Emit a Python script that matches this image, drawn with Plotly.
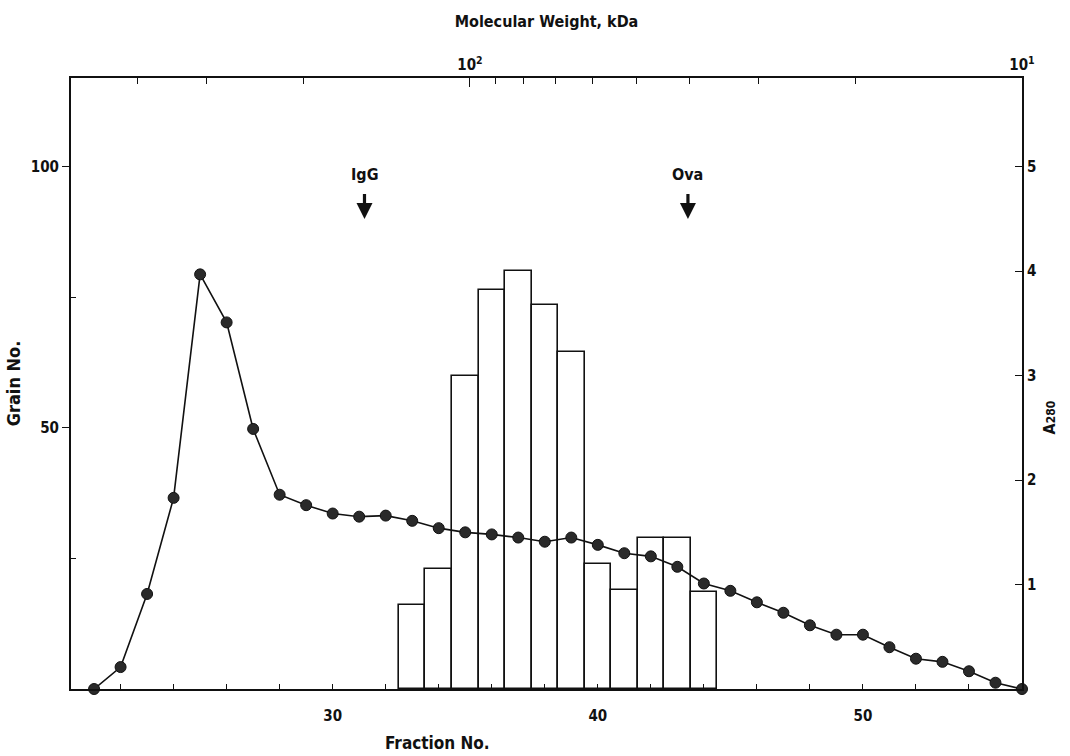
import numpy as np
import plotly.graph_objects as go

# ---- data ----
fractions = list(range(21, 57))
a280 = [0.0, 0.21, 0.91, 1.83, 3.97, 3.51, 2.49, 1.86, 1.76, 1.68, 1.65, 1.66,
        1.61, 1.54, 1.50, 1.48, 1.45, 1.41, 1.45, 1.38, 1.30, 1.27, 1.17, 1.01,
        0.94, 0.83, 0.73, 0.61, 0.52, 0.52, 0.40, 0.29, 0.26, 0.17, 0.06, 0.0]
bar_fractions = list(range(33, 45))
grain = [16, 23, 60, 76.5, 80, 73.5, 64.5, 24, 19, 29, 29, 18.5]
markers_name = ["IgG", "Ova"]
markers_fraction = [31.2, 43.4]
fraction_labels = [30, 40, 50]
fraction_minor = list(range(22, 56, 2))
grain_labels = [50, 100]
grain_minor = [25, 75]
a280_labels = [1, 2, 3, 4, 5]
mw_labels = [100, 10]
mw_minor = [400, 300, 200, 90, 80, 70, 60, 50, 40, 30, 20]

FONT = "DejaVu Sans Condensed, Liberation Sans, Arial, sans-serif"
BLACK = "#111111"
W, H = 1070, 756
ML, MR, MT, MB = 71, 48, 78, 67
PW, PH = W - ML - MR, H - MT - MB

def bfont(size):
    return dict(family=FONT, size=size, color=BLACK, weight="bold")

def px_to_paper(px, py):
    return (px - ML) / PW, (H - MB - py) / PH

fig = go.Figure()
fig.add_trace(go.Bar(
    x=bar_fractions, y=grain, width=1.0,
    marker=dict(color="white", line=dict(color=BLACK, width=1.6)),
    xaxis="x", yaxis="y", showlegend=False))
fig.add_trace(go.Scatter(
    x=fractions, y=a280, mode="lines+markers",
    line=dict(color=BLACK, width=1.6),
    marker=dict(symbol="circle", size=11, color="#2a2a2a",
                line=dict(color=BLACK, width=1)),
    xaxis="x", yaxis="y2", showlegend=False, cliponaxis=False))
# invisible trace so the molecular-weight axis is drawn
fig.add_trace(go.Scatter(
    x=mw_labels, y=[None] * len(mw_labels), mode="markers",
    xaxis="x2", yaxis="y", showlegend=False, hoverinfo="skip"))

# marker arrows with labels (IgG, Ova)
for name, fx in zip(markers_name, markers_fraction):
    fig.add_annotation(x=fx, y=90, xref="x", yref="y", text=name,
                       showarrow=True, arrowhead=2, arrowsize=1.0,
                       arrowwidth=3.2, arrowcolor=BLACK, ax=0, ay=-45,
                       startstandoff=9, font=bfont(16))

tick_font = bfont(15)
mw_text = ["10<sup>2</sup>" if v == 100 else "10<sup>1</sup>" for v in mw_labels]

common = dict(tickcolor=BLACK, tickwidth=1.2, showline=True, linecolor=BLACK,
              linewidth=2, showgrid=False, zeroline=False, tickfont=tick_font,
              automargin=False)

fig.update_layout(
    width=W, height=H,
    margin=dict(l=ML, r=MR, t=MT, b=MB),
    paper_bgcolor="white", plot_bgcolor="white",
    font=dict(family=FONT, color=BLACK),
    bargap=0,
    xaxis=dict(range=[20.13, 56], tickvals=fraction_labels,
               ticks="inside", ticklen=5, ticklabelstandoff=12,
               minor=dict(tickvals=fraction_minor, ticks="inside", ticklen=5,
                          tickcolor=BLACK, tickwidth=1.2, showgrid=False),
               **common),
    xaxis2=dict(type="log", range=[np.log10(528), 1], overlaying="x", side="top",
                anchor="y", tickvals=mw_labels, ticktext=mw_text,
                ticks="inside", ticklen=9,
                minor=dict(tickvals=mw_minor, ticks="inside", ticklen=6,
                           tickcolor=BLACK, tickwidth=1.2, showgrid=False),
                title=dict(text="Molecular Weight, kDa", standoff=22,
                           font=bfont(16)),
                **common),
    yaxis=dict(range=[0, 117], tickvals=grain_labels, ticks="outside", ticklen=7,
               minor=dict(tickvals=grain_minor, ticks="inside", ticklen=5,
                          tickcolor=BLACK, tickwidth=1.2, showgrid=False),
               title=dict(text="Grain No.", standoff=6, font=bfont(18)),
               **common),
    yaxis2=dict(range=[0, 5.85], overlaying="y", side="right", anchor="x",
                tickvals=a280_labels, ticks="inside", ticklen=7,
                **common),
)

ax_, ay_ = px_to_paper(1060, 418)
fig.add_annotation(x=ax_, y=ay_, xref="paper", yref="paper",
                   text="A<span style='font-size:12px'>280</span>", textangle=-90,
                   showarrow=False, font=bfont(16))
fx_, fy_ = px_to_paper(437, 743)
fig.add_annotation(x=fx_, y=fy_, xref="paper", yref="paper", text="Fraction No.",
                   yanchor="middle", showarrow=False, font=bfont(17))

fig.write_html("out.html")
